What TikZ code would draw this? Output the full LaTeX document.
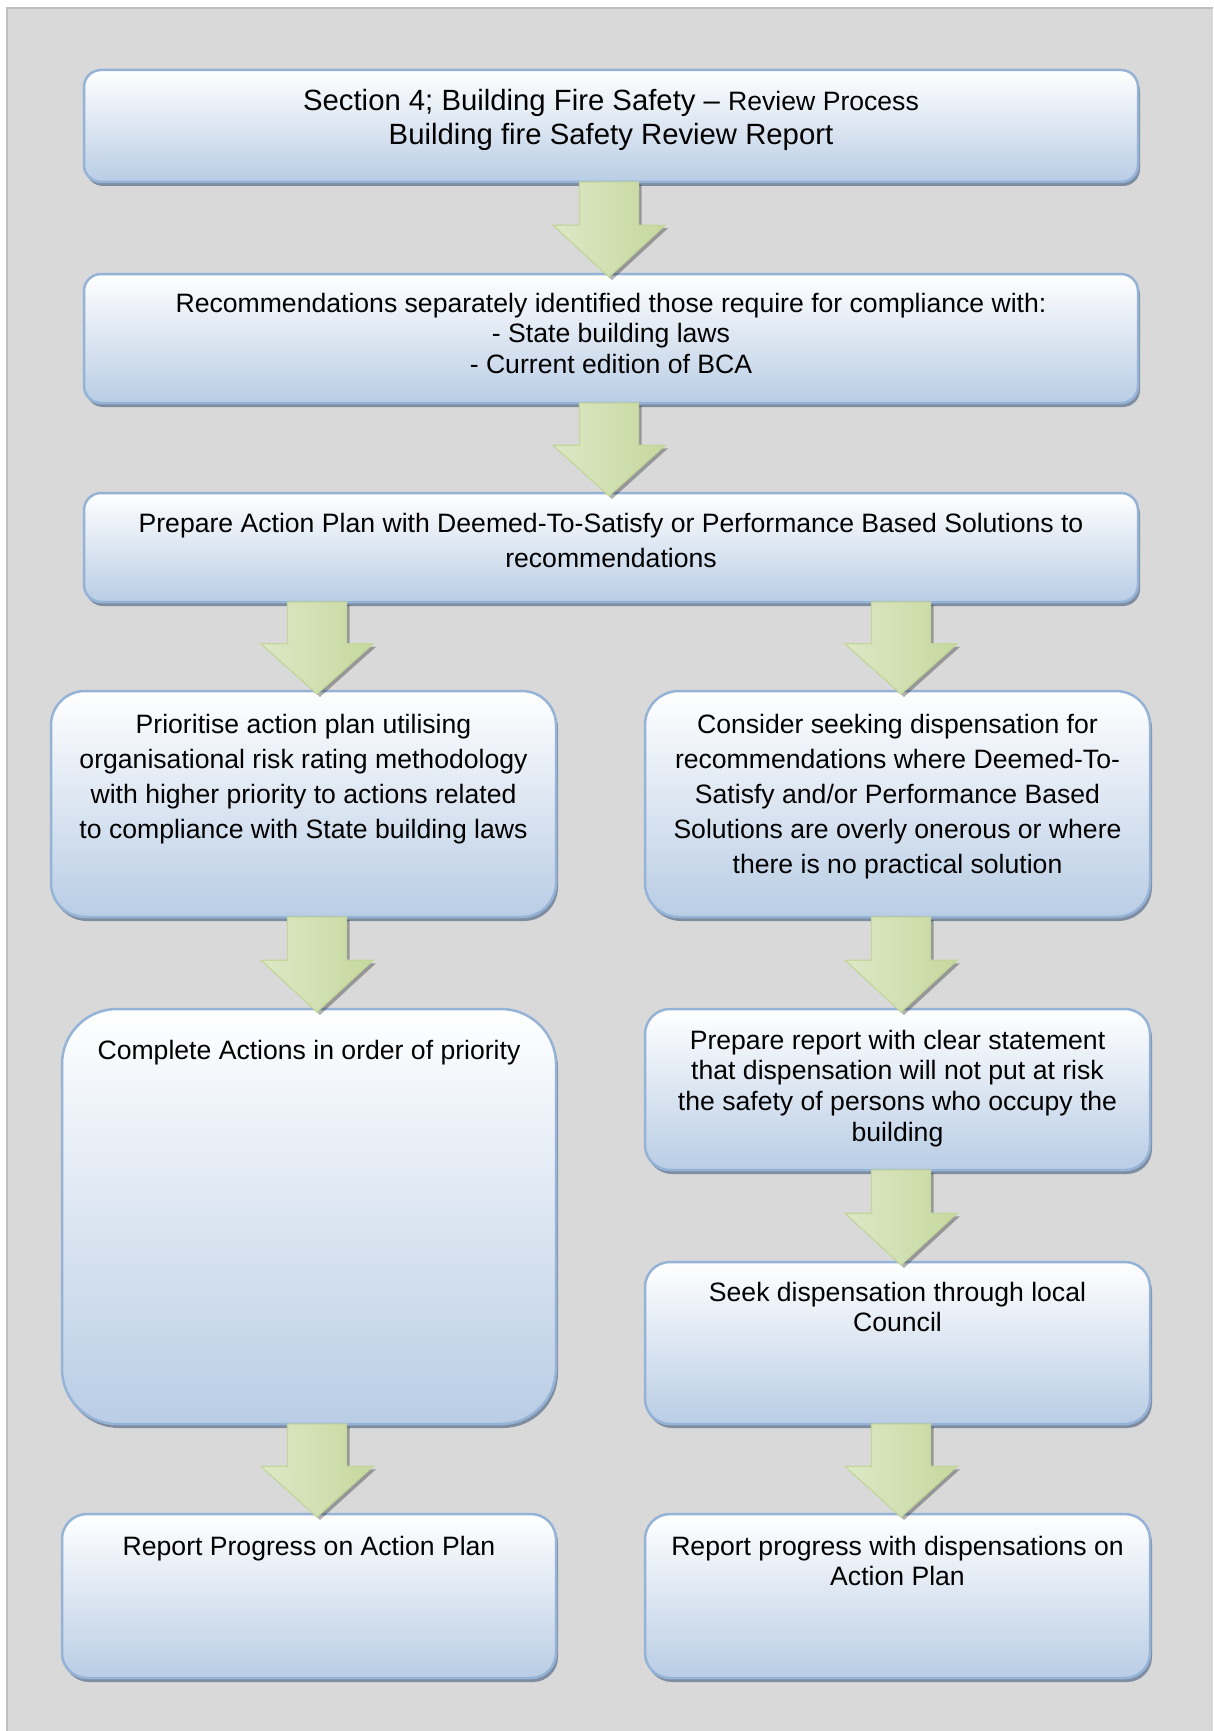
\documentclass[tikz,border=0pt]{standalone}
\usepackage{fontspec}
\setmainfont{Liberation Sans}
\usetikzlibrary{shadows,calc,positioning}
\definecolor{pagegray}{HTML}{D9D9D9}
\definecolor{frameline}{HTML}{BFBFBF}
\definecolor{boxblue}{HTML}{B9CDE5}
\definecolor{boxedge}{HTML}{95B3D7}
\definecolor{boxshade}{HTML}{7F8DA1}
\definecolor{arrowlight}{HTML}{EEF4E3}
\definecolor{arrowmid}{HTML}{DDE8C6}
\definecolor{arrowdark}{HTML}{C6D89E}
\definecolor{arrowedge}{HTML}{C3D69B}
\tikzset{
    flowbox/.style={
        rectangle, draw=boxedge, line width=2.5pt, rounded corners=#1,
        top color=white, bottom color=boxblue, inner sep=0pt, outer sep=0pt,
        drop shadow={shadow xshift=2pt, shadow yshift=-4pt, fill=boxshade, opacity=1}
    },
    flowbox/.default=25pt,
    boxtext/.style={inner sep=0pt, outer sep=0pt, align=center, font=\fontsize{26.6}{35}\selectfont},
    boxtextsingle/.style={boxtext, font=\fontsize{26.6}{30.6}\selectfont},
    titletext/.style={boxtext, font=\fontsize{29.3}{34.5}\selectfont},
    downarrow/.style={
        draw=arrowedge, line width=1.2pt, line join=miter,
        left color=arrowmid, middle color=arrowlight, right color=arrowdark,
        drop shadow={shadow xshift=3pt, shadow yshift=-3pt, fill=black, opacity=0.3}
    },
}
% block arrow from the bottom of one box to the top of the next, in a given column
\newcommand{\flowarrow}[3]{%
    \draw[downarrow] let \p1=(#1.south -| #3), \p2=(#2.north -| #3), \n1={0.47*(\y1-\y2)} in
        (\x1-29.5pt,\y1) -- (\x1+29.5pt,\y1) -- (\x1+29.5pt,\y1-\n1*1pt) -- (\x1+56pt,\y1-\n1*1pt)
        -- (\x1,\y2-3pt) -- (\x1-56pt,\y1-\n1*1pt) -- (\x1-29.5pt,\y1-\n1*1pt) -- cycle;}

\begin{document}
\begin{tikzpicture}[x=1pt,y=-1pt]
\useasboundingbox (0,0) rectangle (1213,1731);
\fill[pagegray] (7,8) rectangle (1213,1731);
\draw[frameline, line width=1.5pt] (7,1731) -- (7,8) -- (1213,8);

\coordinate (colM) at (609,0);
\coordinate (colL) at (317,0);
\coordinate (colR) at (901,0);

% boxes
\node[flowbox=17pt, minimum width=1054pt, minimum height=112pt] (review) at (611,126) {};
\node[flowbox=17pt, minimum width=1054pt, minimum height=129pt] (recomm) at (611,338.5) {};
\node[flowbox=17pt, minimum width=1054pt, minimum height=109pt] (actplan) at (611,547.5) {};
\node[flowbox=34pt, minimum width=505pt, minimum height=226pt] (prior) at (303.5,804) {};
\node[flowbox=34pt, minimum width=505pt, minimum height=226pt] (dispense) at (897.5,804) {};
\node[flowbox=55pt, minimum width=494pt, minimum height=415pt] (complete) at (309,1216.5) {};
\node[flowbox, minimum width=505pt, minimum height=161pt] (statement) at (897.5,1089.5) {};
\node[flowbox, minimum width=505pt, minimum height=162pt] (council) at (897.5,1343) {};
\node[flowbox, minimum width=494pt, minimum height=164pt] (progL) at (309,1596) {};
\node[flowbox, minimum width=505pt, minimum height=164pt] (progR) at (897.5,1596) {};

% texts
\node[titletext, below=19pt of review.north] (reviewTxt)
    {Section 4; Building Fire Safety -- {\fontsize{26.6}{30}\selectfont Review Process}\\Building fire Safety Review Report};
\node[boxtextsingle, below=19pt of recomm.north] (recommTxt)
    {Recommendations separately identified those require for compliance with:\\- State building laws\\- Current edition of BCA};
\node[boxtext, below=20pt of actplan.north] (actplanTxt)
    {Prepare Action Plan with Deemed-To-Satisfy or Performance Based Solutions to\\recommendations};
\node[boxtext, below=23pt of prior.north] (priorTxt)
    {Prioritise action plan utilising\\organisational risk rating methodology\\with higher priority to actions related\\to compliance with State building laws};
\node[boxtext, below=23pt of dispense.north] (dispenseTxt)
    {Consider seeking dispensation for\\recommendations where Deemed-To-\\Satisfy and/or Performance Based\\Solutions are overly onerous or where\\there is no practical solution};
\node[boxtext, below=31pt of complete.north] (completeTxt) {Complete Actions in order of priority};
\node[boxtextsingle, below=21pt of statement.north] (statementTxt)
    {Prepare report with clear statement\\that dispensation will not put at risk\\the safety of persons who occupy the\\building};
\node[boxtextsingle, below=20pt of council.north] (councilTxt) {Seek dispensation through local\\Council};
\node[boxtext, below=22pt of progL.north] (progLTxt) {Report Progress on Action Plan};
\node[boxtextsingle, below=22pt of progR.north] (progRTxt) {Report progress with dispensations on\\Action Plan};

% arrows
\flowarrow{review}{recomm}{colM}
\flowarrow{recomm}{actplan}{colM}
\flowarrow{actplan}{prior}{colL}
\flowarrow{actplan}{dispense}{colR}
\flowarrow{prior}{complete}{colL}
\flowarrow{complete}{progL}{colL}
\flowarrow{dispense}{statement}{colR}
\flowarrow{statement}{council}{colR}
\flowarrow{council}{progR}{colR}
\end{tikzpicture}
\end{document}
